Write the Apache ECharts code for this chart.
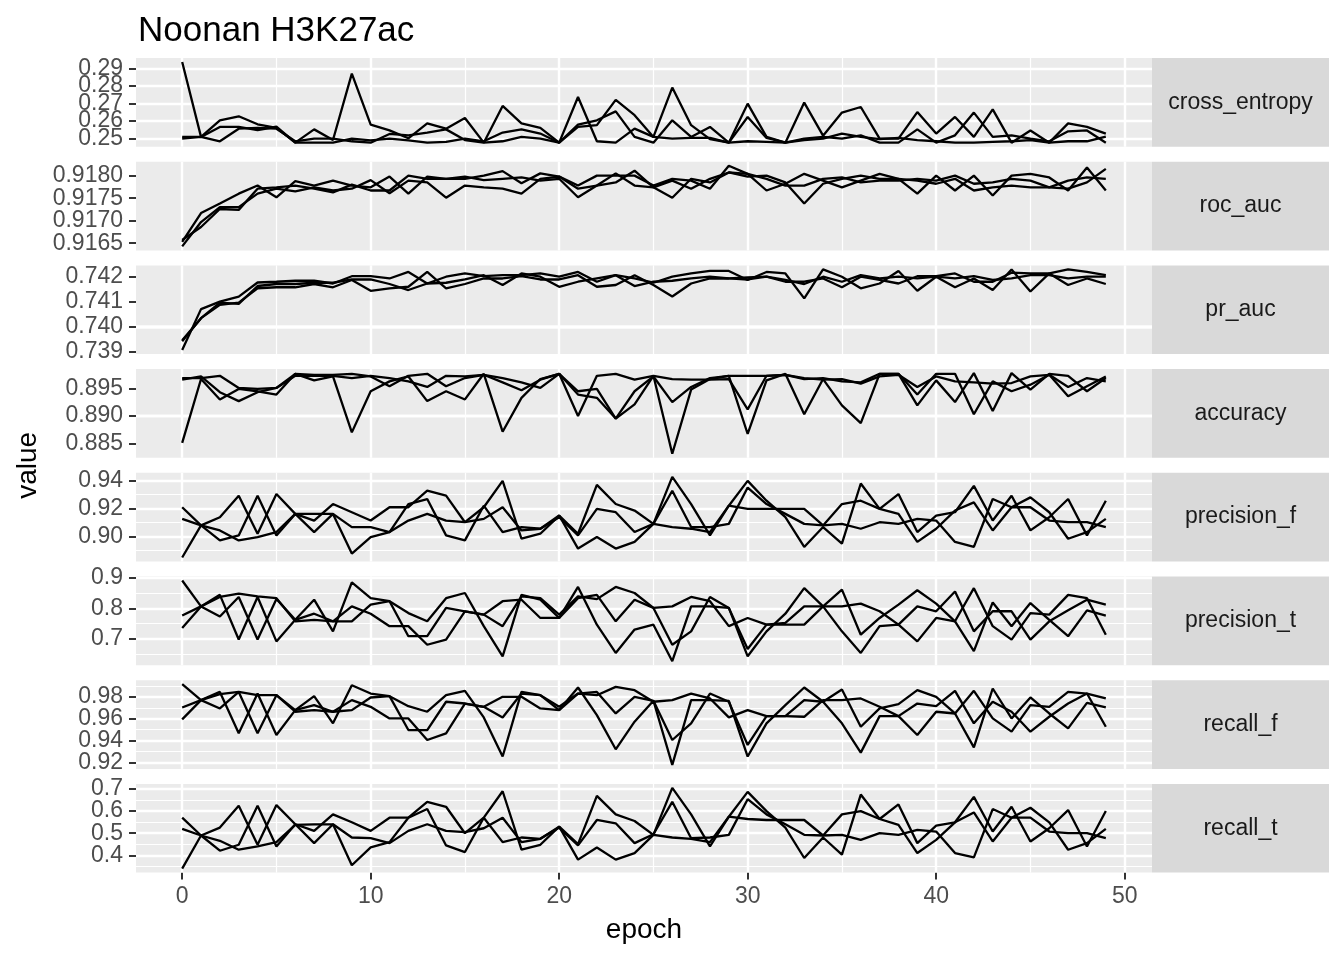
<!DOCTYPE html>
<html>
<head>
<meta charset="utf-8">
<title>Noonan H3K27ac</title>
<script src="https://cdn.jsdelivr.net/npm/echarts@6.0.0/dist/echarts.min.js"></script>
<style>
  html, body { margin: 0; padding: 0; background: #fff; }
  #chart { width: 1344px; height: 960px; }
</style>
</head>
<body>
<div id="chart"></div>
<script>
const FONT = "'Liberation Sans', Arial, Helvetica, sans-serif";

// epochs 0..49
const epochs = Array.from({ length: 50 }, (_, i) => i);
const facetNames = ["cross_entropy", "roc_auc", "pr_auc", "accuracy", "precision_f", "precision_t", "recall_f", "recall_t"];

// cross_entropy
const crossEntropyA = [0.2936,0.2508,0.2603,0.2626,0.2580,0.2560,0.2475,0.2551,0.2490,0.2870,
  0.2578,0.2545,0.2500,0.2585,0.2555,0.2616,0.2475,0.2685,0.2585,0.2560,
  0.2475,0.2736,0.2483,0.2475,0.2555,0.2508,0.2790,0.2575,0.2495,0.2475,
  0.2698,0.2508,0.2475,0.2704,0.2515,0.2647,0.2679,0.2498,0.2498,0.2650,
  0.2527,0.2622,0.2508,0.2665,0.2475,0.2545,0.2475,0.2585,0.2565,0.2527];
const crossEntropyB = [0.2508,0.2508,0.2565,0.2565,0.2547,0.2566,0.2475,0.2475,0.2475,0.2498,
  0.2488,0.2498,0.2488,0.2475,0.2479,0.2498,0.2483,0.2533,0.2551,0.2527,
  0.2475,0.2578,0.2603,0.2654,0.2508,0.2475,0.2603,0.2508,0.2565,0.2475,
  0.2622,0.2502,0.2475,0.2498,0.2508,0.2498,0.2517,0.2475,0.2475,0.2551,
  0.2475,0.2517,0.2647,0.2508,0.2517,0.2498,0.2483,0.2540,0.2545,0.2475];
const crossEntropyC = [0.2498,0.2508,0.2483,0.2555,0.2560,0.2555,0.2483,0.2498,0.2498,0.2483,
  0.2475,0.2525,0.2517,0.2533,0.2551,0.2490,0.2475,0.2483,0.2508,0.2498,
  0.2475,0.2565,0.2575,0.2720,0.2632,0.2508,0.2498,0.2502,0.2502,0.2475,
  0.2483,0.2479,0.2475,0.2490,0.2498,0.2527,0.2508,0.2495,0.2502,0.2490,
  0.2483,0.2475,0.2475,0.2479,0.2483,0.2490,0.2475,0.2483,0.2483,0.2510];

// roc_auc
const rocAucA = [0.91653,0.91717,0.91738,0.91760,0.91778,0.91752,0.91788,0.91778,0.91789,0.91778,
  0.91774,0.91798,0.91760,0.91798,0.91793,0.91793,0.91800,0.91810,0.91783,0.91805,
  0.91798,0.91778,0.91800,0.91800,0.91800,0.91778,0.91793,0.91789,0.91771,0.91822,
  0.91804,0.91767,0.91782,0.91804,0.91789,0.91774,0.91789,0.91804,0.91793,0.91760,
  0.91800,0.91767,0.91800,0.91756,0.91800,0.91804,0.91796,0.91767,0.91818,0.91767];
const rocAucB = [0.91643,0.91697,0.91730,0.91730,0.91760,0.91771,0.91765,0.91774,0.91767,0.91771,
  0.91790,0.91761,0.91789,0.91785,0.91751,0.91778,0.91774,0.91771,0.91760,0.91793,
  0.91798,0.91771,0.91778,0.91785,0.91811,0.91774,0.91751,0.91793,0.91785,0.91807,
  0.91798,0.91800,0.91785,0.91738,0.91782,0.91793,0.91800,0.91793,0.91793,0.91789,
  0.91782,0.91793,0.91767,0.91774,0.91778,0.91774,0.91774,0.91789,0.91796,0.91793];
const rocAucC = [0.91657,0.91686,0.91726,0.91724,0.91771,0.91774,0.91778,0.91771,0.91763,0.91780,
  0.91767,0.91767,0.91800,0.91793,0.91793,0.91798,0.91790,0.91793,0.91796,0.91789,
  0.91793,0.91752,0.91778,0.91805,0.91778,0.91774,0.91789,0.91771,0.91793,0.91807,
  0.91804,0.91793,0.91778,0.91778,0.91793,0.91796,0.91785,0.91789,0.91789,0.91793,
  0.91789,0.91800,0.91782,0.91785,0.91793,0.91789,0.91774,0.91771,0.91785,0.91815];

// pr_auc
const prAucA = [0.73907,0.74070,0.74100,0.74120,0.74176,0.74179,0.74183,0.74183,0.74172,0.74201,
  0.74201,0.74192,0.74218,0.74172,0.74199,0.74212,0.74201,0.74205,0.74205,0.74212,
  0.74199,0.74218,0.74179,0.74205,0.74192,0.74175,0.74199,0.74212,0.74222,0.74222,
  0.74186,0.74218,0.74212,0.74113,0.74228,0.74199,0.74153,0.74172,0.74222,0.74143,
  0.74199,0.74157,0.74192,0.74146,0.74228,0.74140,0.74212,0.74166,0.74192,0.74170];
const prAucB = [0.73946,0.74034,0.74087,0.74096,0.74153,0.74157,0.74157,0.74170,0.74157,0.74186,
  0.74143,0.74153,0.74159,0.74218,0.74153,0.74170,0.74192,0.74192,0.74201,0.74188,
  0.74188,0.74205,0.74159,0.74166,0.74205,0.74166,0.74120,0.74172,0.74192,0.74192,
  0.74196,0.74199,0.74179,0.74179,0.74192,0.74157,0.74199,0.74186,0.74172,0.74201,
  0.74201,0.74212,0.74179,0.74179,0.74215,0.74212,0.74212,0.74228,0.74218,0.74205];
const prAucC = [0.73942,0.74034,0.74096,0.74091,0.74162,0.74170,0.74170,0.74175,0.74175,0.74188,
  0.74188,0.74170,0.74146,0.74172,0.74175,0.74188,0.74205,0.74166,0.74212,0.74199,
  0.74159,0.74179,0.74192,0.74205,0.74162,0.74179,0.74183,0.74192,0.74199,0.74192,
  0.74188,0.74199,0.74186,0.74170,0.74199,0.74179,0.74205,0.74192,0.74199,0.74192,
  0.74199,0.74192,0.74201,0.74186,0.74192,0.74205,0.74205,0.74192,0.74199,0.74199];

// accuracy
const accuracyA = [0.88512,0.89667,0.89298,0.89488,0.89446,0.89387,0.89762,0.89643,0.89714,0.88702,
  0.89446,0.89625,0.89714,0.89268,0.89446,0.89298,0.89762,0.88714,0.89327,0.89667,
  0.89762,0.89000,0.89726,0.89762,0.89655,0.89726,0.88315,0.89476,0.89667,0.89726,
  0.88673,0.89643,0.89762,0.89030,0.89667,0.89190,0.88869,0.89762,0.89762,0.89190,
  0.89643,0.89250,0.89774,0.89089,0.89774,0.89476,0.89762,0.89726,0.89446,0.89685];
const accuracyB = [0.89685,0.89685,0.89726,0.89506,0.89488,0.89506,0.89762,0.89744,0.89744,0.89762,
  0.89714,0.89536,0.89726,0.89762,0.89536,0.89685,0.89744,0.89685,0.89607,0.89506,
  0.89762,0.89446,0.89488,0.88952,0.89208,0.89726,0.89667,0.89655,0.89655,0.89667,
  0.89119,0.89726,0.89744,0.89667,0.89685,0.89625,0.89607,0.89762,0.89762,0.89387,
  0.89762,0.89762,0.89030,0.89625,0.89446,0.89565,0.89744,0.89357,0.89536,0.89714];
const accuracyC = [0.89655,0.89714,0.89429,0.89268,0.89429,0.89506,0.89726,0.89726,0.89726,0.89685,
  0.89726,0.89685,0.89625,0.89524,0.89726,0.89714,0.89744,0.89607,0.89464,0.89655,
  0.89762,0.89387,0.89327,0.88952,0.89446,0.89714,0.89250,0.89524,0.89685,0.89726,
  0.89726,0.89726,0.89744,0.89685,0.89655,0.89667,0.89583,0.89714,0.89744,0.89524,
  0.89714,0.89625,0.89607,0.89583,0.89595,0.89714,0.89744,0.89524,0.89685,0.89625];

// precision_f
const precisionFA = [0.9210,0.9079,0.9138,0.9293,0.9019,0.9305,0.9162,0.9114,0.9233,0.9174,
  0.9114,0.9210,0.9210,0.9329,0.9293,0.9102,0.9210,0.9400,0.8983,0.9019,
  0.9150,0.9019,0.9371,0.9233,0.9186,0.9090,0.9429,0.9233,0.9007,0.9221,
  0.9400,0.9257,0.9138,0.8924,0.9067,0.8948,0.9381,0.9198,0.9305,0.9031,
  0.9150,0.9174,0.9364,0.9114,0.9293,0.9043,0.9138,0.9269,0.9007,0.9257];
const precisionFB = [0.9126,0.9079,0.8971,0.9007,0.9293,0.9007,0.9162,0.9031,0.9162,0.8876,
  0.8995,0.9031,0.9233,0.9269,0.9007,0.8971,0.9221,0.9031,0.9067,0.9055,
  0.9138,0.9007,0.9198,0.9174,0.9031,0.9090,0.9329,0.9067,0.9067,0.9090,
  0.9352,0.9233,0.9162,0.9090,0.9079,0.9233,0.9257,0.9198,0.9162,0.8960,
  0.9055,0.9186,0.9245,0.9043,0.9210,0.9281,0.9174,0.8983,0.9031,0.9126];
const precisionFC = [0.8848,0.9079,0.9043,0.8971,0.8995,0.9031,0.9162,0.9162,0.9162,0.9067,
  0.9067,0.9031,0.9114,0.9162,0.9114,0.9102,0.9126,0.9210,0.9043,0.9055,
  0.9150,0.8912,0.8995,0.8912,0.8960,0.9090,0.9067,0.9055,0.9031,0.9221,
  0.9198,0.9198,0.9198,0.9198,0.9079,0.9090,0.9055,0.9102,0.9090,0.9126,
  0.9114,0.8960,0.8924,0.9269,0.9210,0.9210,0.9114,0.9102,0.9102,0.9067];

// precision_t
const precisionTA = [0.892,0.807,0.774,0.838,0.698,0.831,0.763,0.829,0.725,0.886,
  0.834,0.824,0.785,0.758,0.834,0.851,0.742,0.643,0.845,0.829,
  0.769,0.871,0.747,0.654,0.731,0.747,0.627,0.807,0.807,0.802,
  0.643,0.725,0.783,0.867,0.807,0.725,0.654,0.742,0.747,0.692,
  0.769,0.758,0.867,0.742,0.698,0.785,0.780,0.845,0.834,0.714];
const precisionTB = [0.777,0.807,0.845,0.698,0.838,0.692,0.763,0.783,0.758,0.807,
  0.783,0.742,0.742,0.681,0.698,0.791,0.780,0.824,0.829,0.769,
  0.769,0.834,0.845,0.758,0.829,0.802,0.681,0.725,0.838,0.802,
  0.667,0.747,0.753,0.807,0.807,0.862,0.714,0.769,0.813,0.860,
  0.816,0.758,0.660,0.820,0.742,0.818,0.763,0.709,0.794,0.777];
const precisionTC = [0.736,0.807,0.838,0.849,0.840,0.834,0.758,0.763,0.758,0.758,
  0.813,0.824,0.709,0.709,0.802,0.791,0.780,0.742,0.840,0.834,
  0.780,0.840,0.831,0.871,0.851,0.802,0.807,0.838,0.824,0.742,
  0.769,0.747,0.747,0.747,0.807,0.807,0.816,0.791,0.747,0.807,
  0.791,0.856,0.725,0.791,0.791,0.698,0.758,0.794,0.829,0.813];

// recall_f
const recallFA = [0.9915,0.9770,0.9694,0.9845,0.9467,0.9815,0.9679,0.9806,0.9558,0.9906,
  0.9830,0.9806,0.9715,0.9664,0.9815,0.9855,0.9612,0.9255,0.9845,0.9815,
  0.9679,0.9885,0.9633,0.9321,0.9573,0.9764,0.9179,0.9770,0.9770,0.9764,
  0.9255,0.9558,0.9724,0.9885,0.9755,0.9558,0.9291,0.9624,0.9624,0.9452,
  0.9664,0.9648,0.9855,0.9603,0.9482,0.9724,0.9709,0.9845,0.9830,0.9527];
const recallFB = [0.9703,0.9770,0.9845,0.9467,0.9830,0.9452,0.9679,0.9724,0.9664,0.9770,
  0.9709,0.9603,0.9603,0.9406,0.9467,0.9739,0.9709,0.9800,0.9800,0.9694,
  0.9679,0.9830,0.9845,0.9648,0.9800,0.9764,0.9406,0.9558,0.9830,0.9755,
  0.9361,0.9624,0.9624,0.9770,0.9755,0.9867,0.9527,0.9694,0.9733,0.9861,
  0.9800,0.9648,0.9339,0.9876,0.9603,0.9794,0.9648,0.9512,0.9745,0.9703];
const recallFC = [0.9594,0.9770,0.9824,0.9845,0.9815,0.9815,0.9664,0.9679,0.9664,0.9679,
  0.9794,0.9806,0.9497,0.9497,0.9755,0.9739,0.9709,0.9612,0.9830,0.9815,
  0.9709,0.9830,0.9815,0.9891,0.9861,0.9755,0.9770,0.9830,0.9785,0.9612,
  0.9679,0.9624,0.9624,0.9618,0.9770,0.9770,0.9785,0.9709,0.9624,0.9739,
  0.9715,0.9855,0.9558,0.9755,0.9664,0.9482,0.9618,0.9739,0.9830,0.9785];

// recall_t
const recallTA = [0.5701,0.4896,0.5254,0.6239,0.4478,0.6269,0.5403,0.5104,0.5851,0.5493,
  0.5104,0.5701,0.5701,0.6418,0.6194,0.5000,0.5701,0.6896,0.4254,0.4478,
  0.5299,0.4507,0.6687,0.5851,0.5552,0.4925,0.7045,0.5851,0.4403,0.5746,
  0.6866,0.6000,0.5254,0.3881,0.4806,0.4030,0.6746,0.5642,0.6299,0.4552,
  0.5343,0.5493,0.6642,0.5075,0.6194,0.4627,0.5224,0.6045,0.4403,0.6000];
const recallTB = [0.5194,0.4896,0.4209,0.4478,0.6239,0.4403,0.5403,0.4552,0.5403,0.3552,
  0.4358,0.4597,0.5701,0.6090,0.4448,0.4149,0.5701,0.4597,0.4806,0.4746,
  0.5254,0.4448,0.5597,0.5448,0.4552,0.4955,0.6418,0.4776,0.4806,0.4925,
  0.6537,0.5851,0.5403,0.4925,0.4896,0.5851,0.6000,0.5642,0.5373,0.4104,
  0.4701,0.5493,0.5940,0.4627,0.5701,0.6149,0.5493,0.4254,0.4552,0.5194];
const recallTC = [0.3403,0.4896,0.4657,0.4254,0.4403,0.4597,0.5373,0.5403,0.5403,0.4806,
  0.4776,0.4552,0.5104,0.5403,0.5104,0.5045,0.5224,0.5701,0.4597,0.4746,
  0.5299,0.3806,0.4358,0.3806,0.4104,0.4925,0.4806,0.4746,0.4597,0.5746,
  0.5642,0.5597,0.5597,0.5597,0.4896,0.4925,0.4701,0.5000,0.4925,0.5149,
  0.5075,0.4104,0.3910,0.6090,0.5701,0.5701,0.5075,0.5000,0.5000,0.4776];

// tick values and labels
const xTicks = [0, 10, 20, 30, 40, 50];
const xTickLabels = ["0", "10", "20", "30", "40", "50"];
const xMinorTicks = [5, 15, 25, 35, 45];
const yTicks = [
  [0.25, 0.26, 0.27, 0.28, 0.29],
  [0.9165, 0.9170, 0.9175, 0.9180],
  [0.739, 0.740, 0.741, 0.742],
  [0.885, 0.890, 0.895],
  [0.90, 0.92, 0.94],
  [0.7, 0.8, 0.9],
  [0.92, 0.94, 0.96, 0.98],
  [0.4, 0.5, 0.6, 0.7]
];
const yTickLabels = [
  ["0.25", "0.26", "0.27", "0.28", "0.29"],
  ["0.9165", "0.9170", "0.9175", "0.9180"],
  ["0.739", "0.740", "0.741", "0.742"],
  ["0.885", "0.890", "0.895"],
  ["0.90", "0.92", "0.94"],
  ["0.7", "0.8", "0.9"],
  ["0.92", "0.94", "0.96", "0.98"],
  ["0.4", "0.5", "0.6", "0.7"]
];

const panelLines = [
  [crossEntropyA, crossEntropyB, crossEntropyC],
  [rocAucA, rocAucB, rocAucC],
  [prAucA, prAucB, prAucC],
  [accuracyA, accuracyB, accuracyC],
  [precisionFA, precisionFB, precisionFC],
  [precisionTA, precisionTB, precisionTC],
  [recallFA, recallFB, recallFC],
  [recallTA, recallTB, recallTC]
];

// layout (pixels)
const PANEL_LEFT = 136, PANEL_RIGHT = 1152, STRIP_W = 177;
const PANEL_TOP = 58, PANEL_STEP = 103.7, PANEL_H = 88.7;
const N = facetNames.length;

const grids = [], xAxes = [], yAxes = [], series = [], graphics = [];

const labelStyle = { color: "#4D4D4D", fontSize: 23, fontFamily: FONT };

for (let i = 0; i < N; i++) {
  const top = PANEL_TOP + PANEL_STEP * i;
  const isLast = i === N - 1;
  const all = [].concat(...panelLines[i]);
  const lo = Math.min(...all), hi = Math.max(...all);
  const pad = (hi - lo) * 0.05;
  const yMin = lo - pad, yMax = hi + pad;

  const ticks = yTicks[i];
  const step = ticks[1] - ticks[0];
  const minors = [];
  for (let k = -1; k < ticks.length; k++) {
    const v = ticks[0] + step * (k + 0.5);
    if (v >= yMin && v <= yMax) minors.push(v);
  }
  const fmt = (v) => {
    const j = ticks.indexOf(v);
    return j >= 0 ? yTickLabels[i][j] : "";
  };

  grids.push({
    left: PANEL_LEFT, top: top, width: PANEL_RIGHT - PANEL_LEFT, height: PANEL_H,
    show: true, backgroundColor: "#EBEBEB", borderWidth: 0
  });

  xAxes.push({
    type: "value", gridIndex: i, min: -2.45, max: 51.45,
    splitLine: { show: false }, axisLine: { show: false, onZero: false },
    axisTick: { show: isLast, length: 7, lineStyle: { color: "#333333", width: 2 }, customValues: xTicks },
    axisLabel: Object.assign({
      show: isLast, customValues: xTicks, margin: 13,
      showMinLabel: true, showMaxLabel: true,
      formatter: (v) => xTickLabels[xTicks.indexOf(v)]
    }, labelStyle)
  });

  // ggplot prints every tick label even when they touch; ECharts hides
  // overlapping ones, so the labels are split over two stacked axes.
  const evenTicks = ticks.filter((_, j) => j % 2 === 0);
  const oddTicks = ticks.filter((_, j) => j % 2 === 1);

  yAxes.push({
    type: "value", gridIndex: i, min: yMin, max: yMax, position: "left",
    splitLine: { show: false }, axisLine: { show: false, onZero: false },
    axisTick: { show: true, length: 7, lineStyle: { color: "#333333", width: 2 }, customValues: ticks },
    axisLabel: Object.assign({
      customValues: evenTicks, margin: 13, showMinLabel: true, showMaxLabel: true, formatter: fmt
    }, labelStyle)
  });
  yAxes.push({
    type: "value", gridIndex: i, min: yMin, max: yMax, position: "left", offset: 0,
    splitLine: { show: false }, axisLine: { show: false, onZero: false },
    axisTick: { show: false },
    axisLabel: Object.assign({
      show: oddTicks.length > 0, customValues: oddTicks.length ? oddTicks : [ticks[0]],
      margin: 13, showMinLabel: true, showMaxLabel: true, formatter: fmt
    }, labelStyle)
  });
  const yIdx = 2 * i;

  // panel grid lines, drawn under the data lines
  const gridData = [];
  minors.forEach((v) => gridData.push({ yAxis: v, lineStyle: { color: "#FFFFFF", width: 1.2, type: "solid" } }));
  xMinorTicks.forEach((v) => gridData.push({ xAxis: v, lineStyle: { color: "#FFFFFF", width: 1.2, type: "solid" } }));
  ticks.forEach((v) => gridData.push({ yAxis: v, lineStyle: { color: "#FFFFFF", width: 2.4, type: "solid" } }));
  xTicks.forEach((v) => gridData.push({ xAxis: v, lineStyle: { color: "#FFFFFF", width: 2.4, type: "solid" } }));

  series.push({
    type: "line", xAxisIndex: i, yAxisIndex: yIdx, data: [], z: 1, silent: true,
    markLine: {
      z: 1, silent: true, symbol: ["none", "none"], label: { show: false },
      emphasis: { disabled: true }, animation: false, data: gridData
    }
  });

  panelLines[i].forEach((arr) => {
    series.push({
      type: "line", xAxisIndex: i, yAxisIndex: yIdx, z: 10,
      data: epochs.map((e, k) => [e, arr[k]]),
      showSymbol: false, symbol: "none",
      lineStyle: { color: "#000000", width: 2.3 },
      emphasis: { disabled: true }
    });
  });

  // strip
  graphics.push({
    type: "rect", left: PANEL_RIGHT, top: top,
    shape: { width: STRIP_W, height: PANEL_H },
    style: { fill: "#D9D9D9" }, silent: true
  });
  graphics.push({
    type: "text", x: PANEL_RIGHT + STRIP_W / 2, y: top + PANEL_H / 2,
    style: {
      text: facetNames[i], fill: "#1A1A1A", font: "23px " + FONT,
      textAlign: "center", textVerticalAlign: "middle"
    }, silent: true
  });
}

// axis titles
const lastBottom = PANEL_TOP + PANEL_STEP * (N - 1) + PANEL_H;
graphics.push({
  type: "text", x: (PANEL_LEFT + PANEL_RIGHT) / 2, y: lastBottom + 58,
  style: { text: "epoch", fill: "#000000", font: "28px " + FONT, textAlign: "center", textVerticalAlign: "middle" },
  silent: true
});
graphics.push({
  type: "text", x: 28, y: (PANEL_TOP + lastBottom) / 2, rotation: Math.PI / 2,
  style: { text: "value", fill: "#000000", font: "28px " + FONT, textAlign: "center", textVerticalAlign: "middle" },
  silent: true
});

const chart = echarts.init(document.getElementById("chart"), null, { renderer: "canvas" });
chart.setOption({
  animation: false,
  backgroundColor: "#FFFFFF",
  title: {
    text: "Noonan H3K27ac", left: 133, top: 9,
    textStyle: { fontSize: 35, fontWeight: "normal", color: "#000000", fontFamily: FONT }
  },
  grid: grids,
  xAxis: xAxes,
  yAxis: yAxes,
  series: series,
  graphic: graphics
});
</script>
</body>
</html>
